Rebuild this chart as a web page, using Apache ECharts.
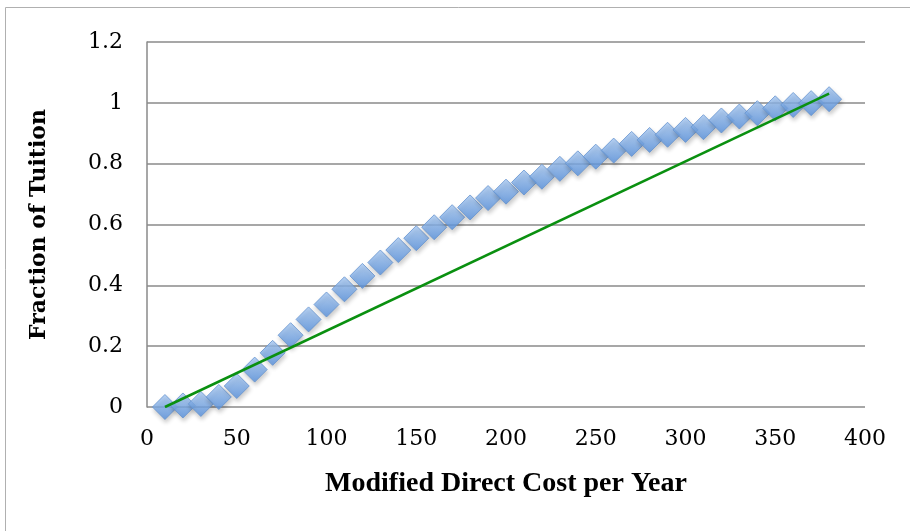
<!DOCTYPE html>
<html>
<head>
<meta charset="utf-8">
<script src="https://cdn.jsdelivr.net/npm/echarts@6/dist/echarts.min.js"></script>
<style>html,body{margin:0;padding:0;background:#fff}#c{width:910px;height:531px}</style>
</head>
<body>
<div id="c"></div>
<script>
const costX = [10,20,30,40,50,60,70,80,90,100,110,120,130,140,150,160,170,180,190,200,210,220,230,240,250,260,270,280,290,300,310,320,330,340,350,360,370,380];
const fraction = [0,0.005,0.01,0.033,0.069,0.123,0.178,0.236,0.288,0.337,0.387,0.431,0.475,0.516,0.555,0.591,0.624,0.656,0.687,0.708,0.738,0.757,0.783,0.801,0.823,0.843,0.865,0.878,0.895,0.911,0.92,0.942,0.955,0.966,0.982,0.993,0.999,1.012];
const trendX = [10,380];
const trendY = [0,1.03];
const xTitle = 'Modified Direct Cost per Year';
const yTitle = 'Fraction of Tuition';

const chart = echarts.init(document.getElementById('c'));
chart.setOption({
  animation:false,
  backgroundColor:'#fff',
  graphic:[{type:'rect',shape:{x:5.5,y:7.5,width:920,height:540},style:{fill:'none',stroke:'#b0b0b0',lineWidth:1}}],
  grid:{left:147,right:45,top:42,bottom:124},
  xAxis:{type:'value',min:0,max:400,interval:50,
    name:xTitle,nameLocation:'middle',nameGap:63,
    nameTextStyle:{fontFamily:'Liberation Serif',fontWeight:'bold',fontSize:28,color:'#000'},
    axisLine:{show:false},axisTick:{show:false},splitLine:{show:false},
    axisLabel:{fontFamily:'DejaVu Serif',fontSize:22,color:'#000',margin:21}},
  yAxis:{type:'value',min:0,max:1.2,interval:0.2,
    name:yTitle,nameLocation:'middle',nameGap:97,
    nameTextStyle:{fontFamily:'DejaVu Serif',fontWeight:'bold',fontSize:22,color:'#000'},
    axisLine:{show:true,lineStyle:{color:'#8a8a8a',width:1.5}},axisTick:{show:false},
    splitLine:{show:true,lineStyle:{color:'#8a8a8a',width:1.5}},
    axisLabel:{fontFamily:'DejaVu Serif',fontSize:22,color:'#000',margin:24,
      formatter:v=>String(Math.round(v*10)/10)}},
  series:[
    {type:'scatter',data:costX.map((x,i)=>[x,fraction[i]]),symbol:'diamond',symbolSize:[25,25],
     itemStyle:{color:new echarts.graphic.LinearGradient(0,0,0,1,[{offset:0,color:'#aacbf4'},{offset:1,color:'#5591e0'}]),
       borderColor:'#6593cf',borderWidth:1,shadowBlur:4,shadowColor:'rgba(0,0,0,0.25)',shadowOffsetX:1,shadowOffsetY:3},z:2},
    {type:'line',data:trendX.map((x,i)=>[x,trendY[i]]),symbol:'none',lineStyle:{color:'#0a9010',width:2.5},z:3}
  ]
});
</script>
</body>
</html>
